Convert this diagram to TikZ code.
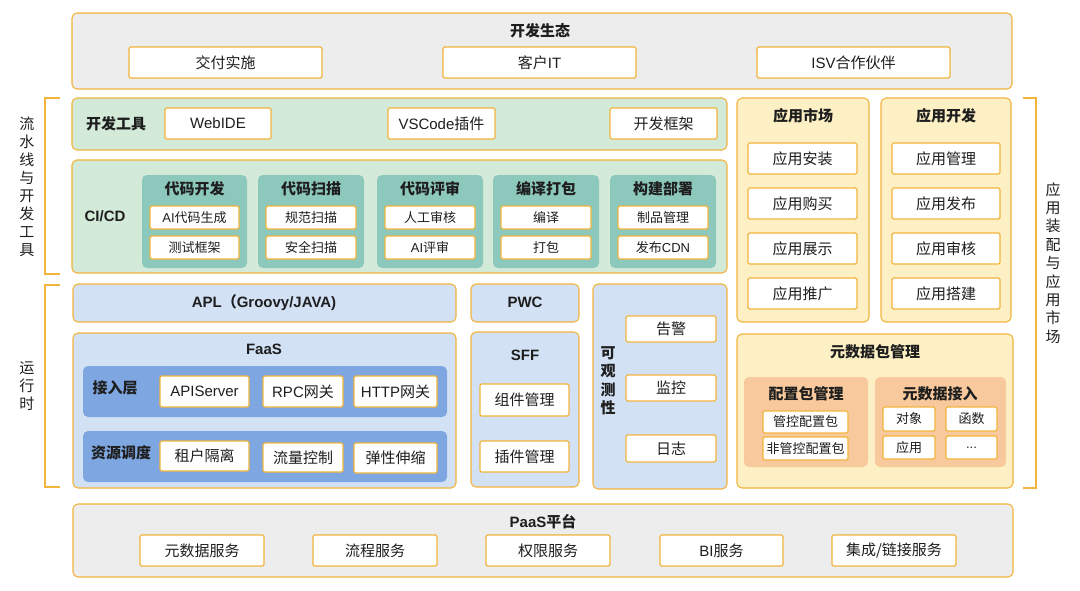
\documentclass[tikz,border=0pt]{standalone}
\usepackage{fontspec}
\setmainfont{Noto Sans CJK SC}
\newfontfamily\lat{Liberation Sans}
\definecolor{ob}{HTML}{F2B43C}
\definecolor{gfill}{HTML}{EDEDED}
\definecolor{grn}{HTML}{D4EAD9}
\definecolor{teal}{HTML}{8DC8BD}
\definecolor{lblue}{HTML}{D3E1F5}
\definecolor{dblue}{HTML}{7EA6E0}
\definecolor{lyel}{HTML}{FDF0C4}
\definecolor{lorg}{HTML}{F8C99C}
\definecolor{txt}{HTML}{1E1E1E}
\tikzset{
  base/.style={draw=ob, line width=1.1pt, inner sep=0pt, text=txt},
  outerbox/.style={base, rounded corners=5pt},
  wbox/.style={base, fill=white, rounded corners=1.5pt, font=\fontsize{15}{18}\selectfont},
  sbox/.style={base, fill=white, rounded corners=1.5pt, font=\fontsize{13}{16}\selectfont},
  panel/.style={inner sep=0pt, rounded corners=5pt},
  ttl/.style={font=\fontsize{15}{18}\selectfont\bfseries, text=txt, inner sep=0pt},
  vtxt/.style={font=\fontsize{15}{18}\selectfont, text=txt, align=center, inner sep=0pt},
  brk/.style={draw=ob, line width=1.1pt},
}
\newcommand\bx[7]{\node[#1, minimum width={(#5)-(#3)}, minimum height={(#6)-(#4)}] (#2) at ({((#3)+(#5))/2},{((#4)+(#6))/2}) {#7};}
\begin{document}
\begin{tikzpicture}[x=1pt,y=-1pt]
\useasboundingbox (0,0) rectangle (1080,590);
% ---------- top: 开发生态
\bx{outerbox, fill=gfill}{eco}{72}{13}{1012}{89}{}
\node[ttl] (ecot) at (540,31) {开发生态};
\bx{wbox}{jf}{129}{47}{322}{78}{交付实施}
\bx{wbox}{kh}{443}{47}{636}{78}{客户{\lat IT}}
\bx{wbox}{isv}{757}{47}{950}{78}{{\lat ISV}合作伙伴}
% ---------- 开发工具
\bx{outerbox, fill=grn}{devt}{72}{98}{727}{150}{}
\node[ttl] (devtl) at (116,124) {开发工具};
\bx{wbox}{webide}{165}{108}{271}{139}{{\lat WebIDE}}
\bx{wbox}{vsc}{388}{108}{495}{139}{{\lat VSCode}插件}
\bx{wbox}{kjkj}{610}{108}{717}{139}{开发框架}
% ---------- CI/CD
\bx{outerbox, fill=grn}{cicd}{72}{160}{727}{273}{}
\node[ttl] (cicdl) at (105,216) {{\lat CI/CD}};
\foreach \n/\xa/\xb/\t/\ia/\ib in {
  p1/142/247/代码开发/{\lat AI}代码生成/测试框架,
  p2/258/364/代码扫描/规范扫描/安全扫描,
  p3/377/483/代码评审/人工审核/{\lat AI}评审,
  p4/493/599/编译打包/编译/打包,
  p5/610/716/构建部署/制品管理/发布{\lat CDN}}{
  \bx{panel, fill=teal}{\n}{\xa}{175}{\xb}{268}{}
  \node[ttl] (\n t) at ({(\xa+\xb)/2},189) {\t};
  \bx{sbox}{\n a}{\xa+8}{206}{\xb-8}{229}{\ia}
  \bx{sbox}{\n b}{\xa+8}{236}{\xb-8}{259}{\ib}
}
% ---------- 应用市场 / 应用开发
\bx{outerbox, fill=lyel}{mkt}{737}{98}{869}{322}{}
\node[ttl] (mktt) at (803,116) {应用市场};
\bx{wbox}{m1}{748}{143}{857}{174}{应用安装}
\bx{wbox}{m2}{748}{188}{857}{219}{应用购买}
\bx{wbox}{m3}{748}{233}{857}{264}{应用展示}
\bx{wbox}{m4}{748}{278}{857}{309}{应用推广}
\bx{outerbox, fill=lyel}{adev}{881}{98}{1011}{322}{}
\node[ttl] (adevt) at (946,116) {应用开发};
\bx{wbox}{d1}{892}{143}{1000}{174}{应用管理}
\bx{wbox}{d2}{892}{188}{1000}{219}{应用发布}
\bx{wbox}{d3}{892}{233}{1000}{264}{应用审核}
\bx{wbox}{d4}{892}{278}{1000}{309}{应用搭建}
% ---------- 元数据包管理
\bx{outerbox, fill=lyel}{meta}{737}{334}{1013}{488}{}
\node[ttl] (metat) at (875,352) {元数据包管理};
\bx{panel, fill=lorg}{cfg}{744}{377}{868}{467}{}
\node[ttl] (cfgt) at (806,394) {配置包管理};
\bx{sbox}{cfg1}{763}{411}{848}{433}{管控配置包}
\bx{sbox}{cfg2}{763}{437}{848}{460}{非管控配置包}
\bx{panel, fill=lorg}{mdi}{875}{377}{1006}{467}{}
\node[ttl] (mdit) at (940,394) {元数据接入};
\bx{sbox}{o1}{883}{407}{935}{431}{对象}
\bx{sbox}{o2}{946}{407}{997}{431}{函数}
\bx{sbox}{o3}{883}{436}{935}{459}{应用}
\bx{sbox}{o4}{946}{436}{997}{459}{{\lat ...}}
% ---------- runtime
\bx{outerbox, fill=lblue}{apl}{73}{284}{456}{322}{}
\node[ttl] (aplt) at (264,303) {{\lat APL}（{\lat Groovy/JAVA)}};
\bx{outerbox, fill=lblue}{faas}{73}{333}{456}{488}{}
\node[ttl] (faast) at (264,349) {{\lat FaaS}};
\bx{panel, fill=dblue}{jrc}{83}{366}{447}{417}{}
\node[ttl] (jrct) at (115,388) {接入层};
\bx{wbox}{api}{160}{376}{249}{407}{{\lat APIServer}}
\bx{wbox}{rpc}{263}{376}{343}{407}{{\lat RPC}网关}
\bx{wbox}{http}{354}{376}{437}{407}{{\lat HTTP}网关}
\bx{panel, fill=dblue}{zydd}{83}{431}{447}{482}{}
\node[ttl] (zyddt) at (121,453) {资源调度};
\bx{wbox}{zh}{160}{441}{249}{471}{租户隔离}
\bx{wbox}{ll}{263}{443}{343}{472}{流量控制}
\bx{wbox}{tx}{354}{443}{437}{473}{弹性伸缩}
\bx{outerbox, fill=lblue}{pwc}{471}{284}{579}{322}{}
\node[ttl] (pwct) at (525,302) {{\lat PWC}};
\bx{outerbox, fill=lblue}{sff}{471}{332}{579}{487}{}
\node[ttl] (sfft) at (525,355) {{\lat SFF}};
\bx{wbox}{zj}{480}{384}{569}{416}{组件管理}
\bx{wbox}{cj}{480}{441}{569}{472}{插件管理}
\bx{outerbox, fill=lblue}{obs}{593}{284}{727}{489}{}
\node[ttl, align=center, font=\fontsize{15}{18.5}\selectfont\bfseries] (obst) at (608,381) {可\\观\\测\\性};
\bx{wbox}{gj}{626}{316}{716}{342}{告警}
\bx{wbox}{jk}{626}{375}{716}{401}{监控}
\bx{wbox}{rz}{626}{435}{716}{462}{日志}
% ---------- PaaS
\bx{outerbox, fill=gfill}{paas}{73}{504}{1013}{577}{}
\node[ttl] (paast) at (543,522) {{\lat PaaS}平台};
\bx{wbox}{s1}{140}{535}{264}{566}{元数据服务}
\bx{wbox}{s2}{313}{535}{437}{566}{流程服务}
\bx{wbox}{s3}{486}{535}{610}{566}{权限服务}
\bx{wbox}{s4}{660}{535}{783}{566}{{\lat BI}服务}
\bx{wbox}{s5}{832}{535}{956}{566}{集成/链接服务}
% ---------- brackets and side labels
\draw[brk] (60,98) -- (45,98) -- (45,274) -- (60,274);
\node[vtxt] (lab1) at (27,187) {流\\水\\线\\与\\开\\发\\工\\具};
\draw[brk] (60,285) -- (45,285) -- (45,487) -- (60,487);
\node[vtxt] (lab2) at (27,386) {运\\行\\时};
\draw[brk] (1023,98) -- (1036,98) -- (1036,488) -- (1023,488);
\node[vtxt, font=\fontsize{15}{18.4}\selectfont] (lab3) at (1053,263) {应\\用\\装\\配\\与\\应\\用\\市\\场};
\end{tikzpicture}
\end{document}
